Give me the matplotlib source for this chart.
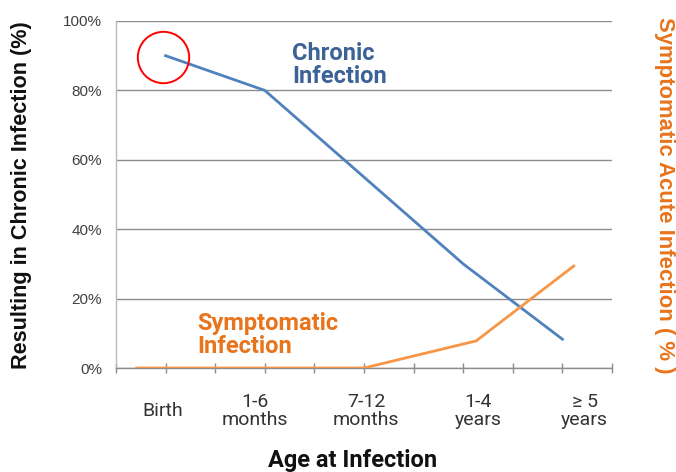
import numpy as np
import matplotlib.pyplot as plt

# data
cat_labels = ['Birth', '1-6\nmonths', '7-12\nmonths', '1-4\nyears', '\u2265 5\nyears']
cat_pos = [0.95, 2.8, 5.04, 7.3, 9.45]

chronic_x = [1, 3, 5, 7, 9]
chronic_y = [90, 80, 55, 30, 8.3]

sympt_x = [0.42, 2.7, 5.0, 7.26, 9.23]
sympt_y = [0, 0, 0, 7.8, 29.4]

yticks = [0, 20, 40, 60, 80, 100]

blue = '#4F81BD'
orange = '#F79646'
blue_txt = '#3C6296'
orange_txt = '#E8741C'
gridc = '#8C8C8C'

plt.rcParams['font.family'] = ['Roboto', 'DejaVu Sans']

fig = plt.figure(figsize=(6.76, 4.72), dpi=100)
ax = fig.add_axes([116/676, 1-368/472, 496/676, 347/472])

ax.plot(chronic_x, chronic_y, color=blue, lw=2.0, solid_joinstyle='miter', zorder=3)
ax.plot(sympt_x, sympt_y, color=orange, lw=2.0, solid_joinstyle='miter', zorder=3)

# red highlight ring around the birth point
ax.plot([chronic_x[0] - 0.05], [chronic_y[0] - 0.4], 'o', ms=37, mfc='none',
        mec='#FF0000', mew=1.4, zorder=4)

ax.set_xlim(0, 10)
ax.set_ylim(0, 100)
ax.set_yticks(yticks)
ax.set_yticklabels([f'{v}%' for v in yticks], family='Liberation Sans',
                   fontsize=11, color='#404040')
ax.yaxis.grid(True, color=gridc, lw=1.0)
ax.set_axisbelow(True)
ax.tick_params(axis='y', length=0, pad=10)

ax.set_xticks(np.arange(0, 11))
ax.set_xticklabels([])
ax.tick_params(axis='x', direction='inout', length=6.5, color=gridc, width=1.0)

for s in ['top', 'right']:
    ax.spines[s].set_visible(False)
ax.spines['left'].set_color('#BBBBBB')
ax.spines['bottom'].set_color(gridc)
ax.spines['left'].set_linewidth(1.0)
ax.spines['bottom'].set_linewidth(1.0)

tr = ax.get_xaxis_transform()
for p, lab in zip(cat_pos, cat_labels):
    ax.text(p, (368-411)/347, lab, transform=tr, ha='center', va='center',
            fontsize=14, color='#333333', linespacing=1.05)

ax.text(3.55, 87.2, 'Chronic\nInfection', color=blue_txt, fontsize=17,
        fontweight='bold', ha='left', va='center', linespacing=1.0)
ax.text(1.63, 9.5, 'Symptomatic\nInfection', color=orange_txt, fontsize=17,
        fontweight='bold', ha='left', va='center', linespacing=1.0)

fig.text(353/676, 1-460/472, 'Age at Infection', ha='center', va='center',
         fontsize=17, fontweight='bold', color='#111111')
fig.text(22/676, 1-195/472, 'Resulting in Chronic Infection (%)', rotation=90,
         ha='center', va='center', fontsize=15.6, fontweight='bold',
         family='Liberation Sans', color='#111111')
fig.text(664/676, 1-195/472, 'Symptomatic Acute Infection ( % )', rotation=270,
         ha='center', va='center', fontsize=15.9, fontweight='bold',
         family='Liberation Sans', color=orange_txt)

fig.savefig('out.png', dpi=100)
